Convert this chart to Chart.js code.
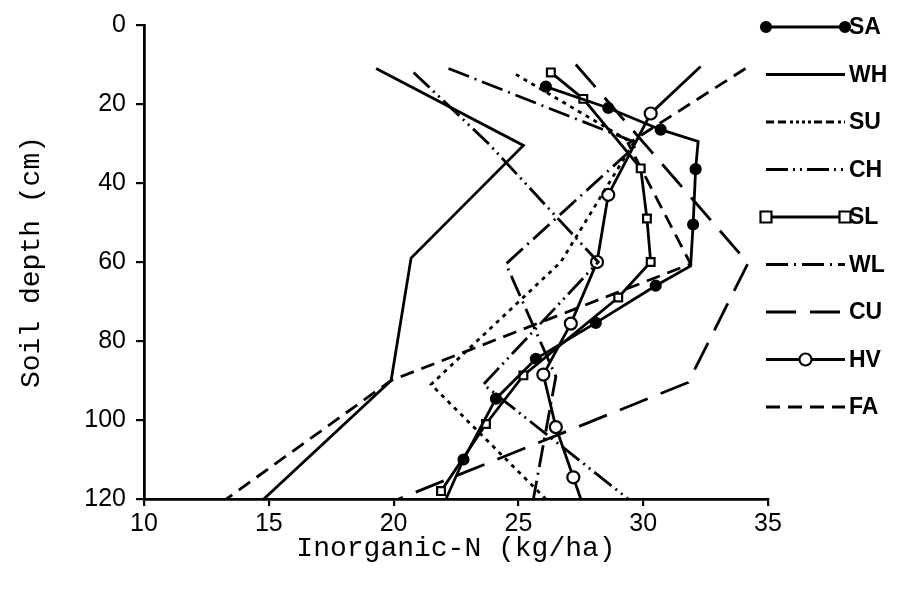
<!DOCTYPE html>
<html>
<head>
<meta charset="utf-8">
<script src="https://cdn.jsdelivr.net/npm/chart.js@4.4.1/dist/chart.umd.min.js"></script>
<style>
  html, body { margin: 0; padding: 0; background: #fff; }
</style>
</head>
<body>
<canvas id="perfil" width="903" height="589"></canvas>
<script>
// Inorganic-N (kg/ha) x soil depth (cm)
const saN = [26.1, 28.6, 30.7, 32.2, 32.1, 32.0, 31.9, 30.5, 28.1, 25.7, 24.1, 22.8, 22.1];
const saDepth = [15.6, 21, 26.5, 29.5, 36.5, 50.5, 61, 66, 75.4, 84.5, 94.6, 110, 120];

const whN = [19.3, 25.2, 20.7, 19.9, 14.8];
const whDepth = [11, 30.5, 59, 90, 120];

const suN = [24.9, 29.6, 26.7, 21.5, 26.1];
const suDepth = [12.5, 30, 60, 91, 120];

const chN = [20.8, 23.8, 28.2, 23.6, 29.4];
const chDepth = [12, 30, 60, 91, 120];

const slN = [26.3, 27.6, 29.9, 30.15, 30.3, 29.0, 25.2, 23.7, 21.9];
const slDepth = [12, 18.7, 36.3, 49, 60, 69, 88.7, 101, 118];

const wlN = [22.2, 29.8, 24.5, 26.5, 25.6];
const wlDepth = [11, 30, 60.5, 89, 120];

const cuN = [27.3, 34.2, 31.8, 20.2];
const cuDepth = [10, 60.3, 90.5, 120];

const hvN = [32.3, 30.3, 28.6, 28.15, 27.1, 26.0, 26.5, 27.2, 27.5];
const hvDepth = [10.5, 22.4, 43, 60, 75.6, 88.5, 101.8, 114.5, 120];

const faN = [34.1, 29.4, 31.9, 19.9, 13.3];
const faDepth = [11, 30, 60.5, 90, 120];

const xTicks = [10, 15, 20, 25, 30, 35];
const yTicks = [0, 20, 40, 60, 80, 100, 120];

function serie(label, xs, ys, extra) {
    return Object.assign({
        label: label,
        data: xs.map((v, i) => ({ x: v, y: ys[i] })),
        borderColor: '#000',
        backgroundColor: '#000',
        borderWidth: 2.8,
        pointRadius: 0,
        pointBorderWidth: 2.2,
        pointBorderColor: '#000',
        tension: 0,
        fill: false
    }, extra);
}

// pontos sem marcador (cantos / extremos)
const semMarcaSA = [3, 6, 12];
const semMarcaHV = [0, 8];

const datasets = [
    serie('SA', saN, saDepth, {
        pointStyle: 'circle', pointBackgroundColor: '#000',
        pointRadius: ctx => semMarcaSA.includes(ctx.dataIndex) ? 0 : 5,
        marcas: [0, 1], marcaTipo: 'ponto'
    }),
    serie('WH', whN, whDepth, {}),
    serie('SU', suN, suDepth, { borderDash: [4, 5], legendaDash: [8, 4, 8, 4, 3, 3, 3, 3, 3, 3, 3, 3] }),
    serie('CH', chN, chDepth, { borderDash: [22, 5, 2, 5, 2, 5] }),
    serie('SL', slN, slDepth, {
        pointStyle: 'rect', pointRadius: 5.5, pointBackgroundColor: '#fff',
        marcas: [0, 1], marcaTipo: 'quadrado'
    }),
    serie('WL', wlN, wlDepth, { borderDash: [22, 6, 2, 6] }),
    serie('CU', cuN, cuDepth, { borderDash: [30, 14] }),
    serie('HV', hvN, hvDepth, {
        pointStyle: 'circle', pointBackgroundColor: '#fff',
        pointRadius: ctx => semMarcaHV.includes(ctx.dataIndex) ? 0 : 6,
        marcas: [0.5], marcaTipo: 'circulo'
    }),
    serie('FA', faN, faDepth, { borderDash: [14, 8] })
];

const legendaPlugin = {
    id: 'legenda',
    afterDraw(chart) {
        const ctx = chart.ctx;
        const x0 = 766, x1 = 845;
        chart.data.datasets.forEach((ds, i) => {
            const y = 27 + i * 47.5;
            ctx.save();
            ctx.strokeStyle = '#000';
            ctx.lineWidth = 2.8;
            ctx.setLineDash(ds.legendaDash || ds.borderDash || []);
            ctx.beginPath();
            ctx.moveTo(x0, y);
            ctx.lineTo(x1, y);
            ctx.stroke();
            ctx.setLineDash([]);
            (ds.marcas || []).forEach(f => {
                const mx = x0 + f * (x1 - x0);
                ctx.lineWidth = 2.2;
                ctx.beginPath();
                if (ds.marcaTipo === 'quadrado') {
                    ctx.rect(mx - 5.5, y - 5.5, 11, 11);
                    ctx.fillStyle = '#fff';
                } else if (ds.marcaTipo === 'circulo') {
                    ctx.arc(mx, y, 6, 0, Math.PI * 2);
                    ctx.fillStyle = '#fff';
                } else {
                    ctx.arc(mx, y, 5, 0, Math.PI * 2);
                    ctx.fillStyle = '#000';
                }
                ctx.fill();
                ctx.stroke();
            });
            ctx.fillStyle = '#000';
            ctx.font = 'bold 23px "Liberation Sans", Arial, sans-serif';
            ctx.textBaseline = 'middle';
            ctx.textAlign = 'left';
            ctx.fillText(ds.label, 849, y + 1);
            ctx.restore();
        });
    }
};

const fonteTick = { family: '"Liberation Sans", Arial, sans-serif', size: 25 };
const fonteTitulo = { family: '"Liberation Mono", "Courier New", monospace', size: 28 };

new Chart(document.getElementById('perfil'), {
    type: 'line',
    data: { datasets: datasets },
    plugins: [legendaPlugin],
    options: {
        responsive: false,
        animation: false,
        layout: { padding: { top: 24, right: 135, left: 0, bottom: 0 } },
        plugins: {
            legend: { display: false },
            tooltip: { enabled: false }
        },
        scales: {
            x: {
                type: 'linear',
                min: 10,
                max: 35,
                afterFit: s => { s.height = 90; },
                afterBuildTicks: s => { s.ticks = xTicks.map(v => ({ value: v })); },
                border: { display: true, color: '#000', width: 2.8 },
                grid: { drawOnChartArea: false, drawTicks: true, tickLength: 7, color: '#000', lineWidth: 2.2 },
                ticks: { color: '#000', font: fonteTick, padding: 3, maxRotation: 0 },
                title: { display: true, text: 'Inorganic-N (kg/ha)', color: '#000', font: fonteTitulo, padding: { top: 0, bottom: 24 } }
            },
            y: {
                type: 'linear',
                reverse: true,
                min: 0,
                max: 120,
                afterFit: s => { s.width = 144; },
                afterBuildTicks: s => { s.ticks = yTicks.map(v => ({ value: v })); },
                border: { display: true, color: '#000', width: 2.8 },
                grid: { drawOnChartArea: false, drawTicks: true, tickLength: 8, color: '#000', lineWidth: 2.2 },
                ticks: { color: '#000', font: fonteTick, padding: 10 },
                title: { display: true, text: 'Soil depth (cm)', color: '#000', font: fonteTitulo, padding: { top: 15, bottom: 0 } }
            }
        }
    }
});
</script>
</body>
</html>
